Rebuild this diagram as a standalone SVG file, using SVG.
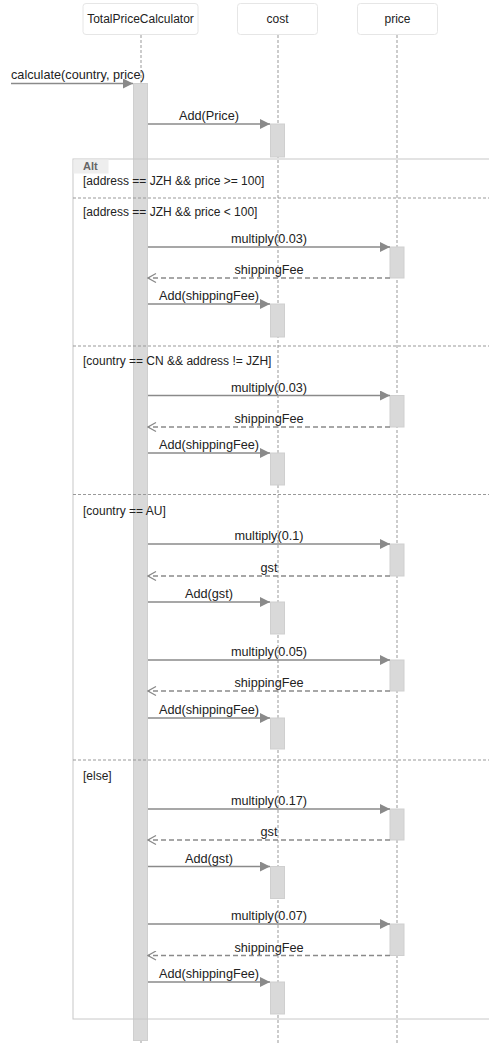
<svg xmlns="http://www.w3.org/2000/svg" width="489" height="1043" viewBox="0 0 489 1043">
<defs>
<style>
text{font-family:"Liberation Sans",Arial,sans-serif;font-size:12px;fill:#222}
.hdr{fill:#fff;stroke:#e6e6e6;stroke-width:1}
.life{stroke:#999;stroke-width:1;stroke-dasharray:3,2;fill:none}
.act{fill:#d9d9d9;stroke:#cfcfcf;stroke-width:1}
.frame{fill:none;stroke:#c8c8c8;stroke-width:1}
.sep{stroke:#999;stroke-width:1;stroke-dasharray:3,2;fill:none}
.msg{stroke:#8a8a8a;stroke-width:1.6;fill:none;marker-end:url(#solid)}
.ret{stroke:#8a8a8a;stroke-width:1.5;stroke-dasharray:5,3;fill:none;marker-end:url(#open)}
.lbl{text-anchor:middle;font-size:12.7px}
.m{font-size:12.7px}
.cond{font-size:12px}
</style>
<marker id="solid" viewBox="0 0 10 10" refX="10" refY="5" markerWidth="10" markerHeight="10" markerUnits="userSpaceOnUse" orient="auto">
<path d="M0,0 L10,5 L0,10 Z" fill="#8a8a8a"/>
</marker>
<marker id="open" viewBox="0 0 10 10" refX="9" refY="5" markerWidth="10" markerHeight="10" markerUnits="userSpaceOnUse" orient="auto">
<path d="M1,0.5 L9,5 L1,9.5" fill="none" stroke="#8a8a8a" stroke-width="1.2"/>
</marker>
</defs>

<g id="TotalPriceCalculator">
<rect class="hdr" x="83" y="3.5" width="115" height="31" rx="3"/>
<text x="140.5" y="23" text-anchor="middle">TotalPriceCalculator</text>
<line class="life" x1="141" y1="35" x2="141" y2="1043"/>
<rect class="act" x="133.5" y="83.5" width="14" height="957"/>
</g>

<g id="cost">
<rect class="hdr" x="237.5" y="3.5" width="80" height="31" rx="3"/>
<text x="277.5" y="23" text-anchor="middle">cost</text>
<line class="life" x1="278" y1="35" x2="278" y2="1043"/>
<rect class="act" x="270.5" y="124" width="14" height="33"/>
<rect class="act" x="270.5" y="304" width="14" height="33"/>
<rect class="act" x="270.5" y="453" width="14" height="32"/>
<rect class="act" x="270.5" y="602" width="14" height="32"/>
<rect class="act" x="270.5" y="718" width="14" height="31"/>
<rect class="act" x="270.5" y="866.5" width="14" height="32"/>
<rect class="act" x="270.5" y="982" width="14" height="32"/>
</g>

<g id="price">
<rect class="hdr" x="357.5" y="3.5" width="80" height="31" rx="3"/>
<text x="397.5" y="23" text-anchor="middle">price</text>
<line class="life" x1="397" y1="35" x2="397" y2="1043"/>
<rect class="act" x="390" y="247" width="14" height="31"/>
<rect class="act" x="390" y="395.5" width="14" height="31.5"/>
<rect class="act" x="390" y="544" width="14" height="32"/>
<rect class="act" x="390" y="660" width="14" height="31"/>
<rect class="act" x="390" y="809" width="14" height="31"/>
<rect class="act" x="390" y="924" width="14" height="31.5"/>
</g>

<g id="alt-frame">
<rect class="frame" x="73" y="159" width="430" height="860"/>
<rect x="73.5" y="159.5" width="35" height="14" fill="#eeeeee"/>
<text x="83" y="170" style="font-size:11px;font-weight:bold;fill:#666">Alt</text>
<text class="cond" x="83" y="185">[address == JZH &amp;&amp; price &gt;= 100]</text>
<line class="sep" x1="73" y1="198" x2="489" y2="198"/>
<text class="cond" x="83" y="216">[address == JZH &amp;&amp; price &lt; 100]</text>
<line class="sep" x1="73" y1="346" x2="489" y2="346"/>
<text class="cond" x="83" y="365">[country == CN &amp;&amp; address != JZH]</text>
<line class="sep" x1="73" y1="494.5" x2="489" y2="494.5"/>
<text class="cond" x="83" y="515">[country == AU]</text>
<line class="sep" x1="73" y1="760" x2="489" y2="760"/>
<text class="cond" x="83" y="780">[else]</text>
</g>

<g id="connectors">
<line class="msg" x1="11" y1="83.5" x2="133" y2="83.5"/>
<line class="msg" x1="148" y1="124" x2="270" y2="124"/>

<line class="msg" x1="148" y1="247" x2="390" y2="247"/>
<line class="ret" x1="390" y1="278" x2="148" y2="278"/>
<line class="msg" x1="148" y1="304" x2="270" y2="304"/>

<line class="msg" x1="148" y1="395.5" x2="390" y2="395.5"/>
<line class="ret" x1="390" y1="427" x2="148" y2="427"/>
<line class="msg" x1="148" y1="453" x2="270" y2="453"/>

<line class="msg" x1="148" y1="544" x2="390" y2="544"/>
<line class="ret" x1="390" y1="576" x2="148" y2="576"/>
<line class="msg" x1="148" y1="602" x2="270" y2="602"/>
<line class="msg" x1="148" y1="660" x2="390" y2="660"/>
<line class="ret" x1="390" y1="691" x2="148" y2="691"/>
<line class="msg" x1="148" y1="718" x2="270" y2="718"/>

<line class="msg" x1="148" y1="809" x2="390" y2="809"/>
<line class="ret" x1="390" y1="840" x2="148" y2="840"/>
<line class="msg" x1="148" y1="866.5" x2="270" y2="866.5"/>
<line class="msg" x1="148" y1="924" x2="390" y2="924"/>
<line class="ret" x1="390" y1="955.5" x2="148" y2="955.5"/>
<line class="msg" x1="148" y1="982" x2="270" y2="982"/>
</g>

<g id="labels">
<text class="m" x="11" y="79">calculate(country, price)</text>
<text class="lbl" x="209" y="120">Add(Price)</text>

<text class="lbl" x="269" y="243">multiply(0.03)</text>
<text class="lbl" x="269" y="274">shippingFee</text>
<text class="lbl" x="209" y="300">Add(shippingFee)</text>

<text class="lbl" x="269" y="391.5">multiply(0.03)</text>
<text class="lbl" x="269" y="423">shippingFee</text>
<text class="lbl" x="209" y="449">Add(shippingFee)</text>

<text class="lbl" x="269" y="540">multiply(0.1)</text>
<text class="lbl" x="269" y="572">gst</text>
<text class="lbl" x="209" y="598">Add(gst)</text>
<text class="lbl" x="269" y="656">multiply(0.05)</text>
<text class="lbl" x="269" y="687">shippingFee</text>
<text class="lbl" x="209" y="714">Add(shippingFee)</text>

<text class="lbl" x="269" y="805">multiply(0.17)</text>
<text class="lbl" x="269" y="836">gst</text>
<text class="lbl" x="209" y="862.5">Add(gst)</text>
<text class="lbl" x="269" y="920">multiply(0.07)</text>
<text class="lbl" x="269" y="951.5">shippingFee</text>
<text class="lbl" x="209" y="978">Add(shippingFee)</text>
</g>
</svg>
